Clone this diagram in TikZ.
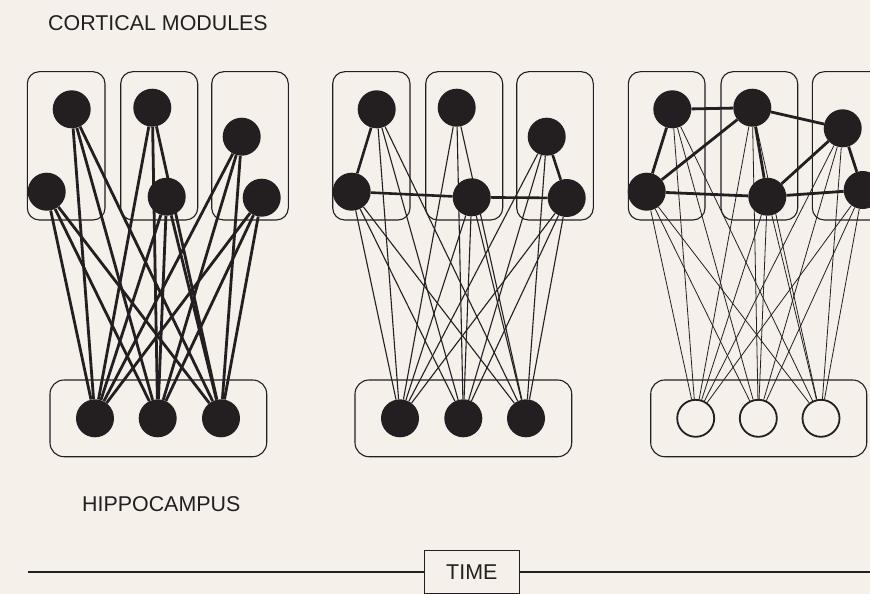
\documentclass[tikz,border=0pt]{standalone}
\usepackage{fontspec}
\setmainfont{Liberation Sans}
\pgfdeclarelayer{paperlayer}
\pgfdeclarelayer{links}
\pgfsetlayers{paperlayer,links,main}
\definecolor{paper}{HTML}{F5F0EA}
\definecolor{ink}{HTML}{231F20}
\tikzset{
  neuron/.style={circle, fill=ink, inner sep=0pt, minimum size=38pt},
  idle/.style={circle, draw=ink, line width=1.8pt, fill=paper, inner sep=0pt, minimum size=37pt},
  module/.style={draw=ink, line width=1.1pt, rounded corners=12pt},
  hippobox/.style={draw=ink, line width=1.1pt, rounded corners=14pt},
  label/.style={text=ink, inner sep=0pt, font=\fontsize{21.4}{25}\selectfont},
  heavy/.style={draw=ink, line width=2.8pt},
  medium/.style={draw=ink, line width=2.6pt},
  fine/.style={draw=ink, line width=1.1pt},
  hair/.style={draw=ink, line width=0.8pt},
  timebox/.style={draw=ink, line width=1.1pt, fill=paper, minimum width=95pt, minimum height=42.7pt, inner sep=0pt, text=ink, font=\fontsize{21.4}{25}\selectfont},
  timeline/.style={draw=ink, line width=1.1pt}
}
% every cortical node of a panel linked to every hippocampal node
\newcommand\hippolinks[2]{%
  \foreach \c in {a1,a2,b1,b2,c1,c2}{%
    \foreach \h in {h1,h2,h3}{%
      \draw[#2] (#1\c) -- (#1\h);
    }%
  }%
}
\begin{document}
\begin{tikzpicture}[x=1pt,y=-1pt]
\useasboundingbox (0,0) rectangle (870,594);
\begin{pgfonlayer}{paperlayer}
  \fill[paper] (0,0) rectangle (870,594);
\end{pgfonlayer}

% ---------- labels ----------
\node[label, anchor=base west] (cortex) at (48,30.7) {CORTICAL MODULES};
\node[label, anchor=base west] (hippo) at (82,511.7) {HIPPOCAMPUS};

% ---------- panel 1: hippocampus binds the modules ----------
\draw[module] (27.3,71.7) rectangle (105,220);
\draw[module] (120.7,71.7) rectangle (197.7,220);
\draw[module] (211.7,71.7) rectangle (288.3,220);
\draw[hippobox] (50,380) rectangle (266.7,456.7);
\node[neuron] (pa1) at (71.7,109.3) {};
\node[neuron] (pa2) at (46.7,191.7) {};
\node[neuron] (pb1) at (152.3,107.7) {};
\node[neuron] (pb2) at (166.7,196.7) {};
\node[neuron] (pc1) at (241.7,136.7) {};
\node[neuron] (pc2) at (261.7,197.7) {};
\node[neuron] (ph1) at (95,418.3) {};
\node[neuron] (ph2) at (157.7,418.3) {};
\node[neuron] (ph3) at (221,418.3) {};
\begin{pgfonlayer}{links}
  \hippolinks{p}{heavy}
\end{pgfonlayer}

% ---------- panel 2: first cortical links ----------
\draw[module] (332.7,71.7) rectangle (410,220);
\draw[module] (425.7,71.7) rectangle (502.7,220);
\draw[module] (516.7,71.7) rectangle (593.3,220);
\draw[hippobox] (355,380) rectangle (571.7,456.7);
\node[neuron] (qa1) at (376.7,109.3) {};
\node[neuron] (qa2) at (351.7,191.7) {};
\node[neuron] (qb1) at (456.7,107.7) {};
\node[neuron] (qb2) at (471.7,197.3) {};
\node[neuron] (qc1) at (546.7,136.7) {};
\node[neuron] (qc2) at (566.7,198) {};
\node[neuron] (qh1) at (400,418.3) {};
\node[neuron] (qh2) at (463.3,418.3) {};
\node[neuron] (qh3) at (526,418.3) {};
\begin{pgfonlayer}{links}
  \hippolinks{q}{fine}
  \draw[medium] (qa1) -- (qa2);
  \draw[medium] (qa2) -- (qb2);
  \draw[medium] (qb2) -- (qc2);
  \draw[medium] (qc1) -- (qc2);
\end{pgfonlayer}

% ---------- panel 3: cortex on its own ----------
\draw[module] (628.3,71.7) rectangle (705,220);
\draw[module] (721,71.7) rectangle (797.7,220);
\draw[module] (812.3,71.7) rectangle (889,220);
\draw[hippobox] (650.7,380) rectangle (866.7,456.7);
\node[neuron] (ra1) at (672.3,109.3) {};
\node[neuron] (ra2) at (646.7,191.7) {};
\node[neuron] (rb1) at (752.3,107.7) {};
\node[neuron] (rb2) at (767.3,196.7) {};
\node[neuron] (rc1) at (842.7,128.3) {};
\node[neuron] (rc2) at (862.7,190) {};
\node[idle] (rh1) at (695.7,418.3) {};
\node[idle] (rh2) at (758.3,418.3) {};
\node[idle] (rh3) at (821,418.3) {};
\begin{pgfonlayer}{links}
  \hippolinks{r}{hair}
  \draw[heavy] (ra1) -- (rb1);
  \draw[heavy] (ra1) -- (ra2);
  \draw[heavy] (ra2) -- (rb1);
  \draw[heavy] (ra2) -- (rb2);
  \draw[heavy] (rb1) -- (rb2);
  \draw[heavy] (rb1) -- (rc1);
  \draw[heavy] (rb2) -- (rc1);
  \draw[heavy] (rb2) -- (rc2);
  \draw[heavy] (rc1) -- (rc2);
\end{pgfonlayer}

% ---------- time axis ----------
\node[timebox] (time) at (471.8,572) {TIME};
\coordinate (tstart) at (27.7,572);
\coordinate (tend) at (870,572);
\draw[timeline] (tstart) -- (time.west);
\draw[timeline] (time.east) -- (tend);
\end{tikzpicture}
\end{document}
